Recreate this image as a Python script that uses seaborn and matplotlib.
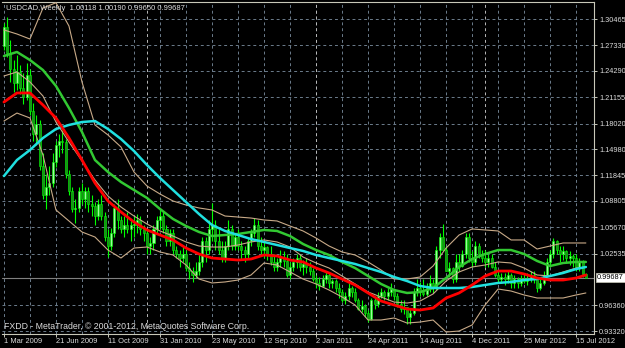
import matplotlib
matplotlib.use("Agg")
import matplotlib.pyplot as plt
import seaborn as sns
import pandas as pd

# ---------------- data ----------------
opens = [
1.2720, 1.2950, 1.2640, 1.2450, 1.2280, 1.2420, 1.2230, 1.2120, 1.2380, 1.1950,
1.1680, 1.1800, 1.1300, 1.0950, 1.1050, 1.1100, 1.1350, 1.1550, 1.1600, 1.1580,
1.1200, 1.1000, 1.0780, 1.0800, 1.1000, 1.0900, 1.1000, 1.0850, 1.0820, 1.0700,
1.0850, 1.0700, 1.0450, 1.0350, 1.0500, 1.0800, 1.0650, 1.0550, 1.0600, 1.0550,
1.0600, 1.0600, 1.0650, 1.0550, 1.0500, 1.0350, 1.0380, 1.0550, 1.0650, 1.0700,
1.0550, 1.0400, 1.0500, 1.0300, 1.0250, 1.0200, 1.0250, 1.0080, 1.0050, 1.0000,
1.0050, 1.0150, 1.0400, 1.0300, 1.0550, 1.0600, 1.0400, 1.0300, 1.0200, 1.0350,
1.0550, 1.0350, 1.0450, 1.0350, 1.0300, 1.0250, 1.0400, 1.0500, 1.0600, 1.0350,
1.0300, 1.0330, 1.0250, 1.0150, 1.0100, 1.0150, 1.0200, 1.0170, 1.0000, 1.0100,
1.0150, 1.0200, 1.0100, 1.0130, 1.0100, 1.0050, 0.9950, 0.9900, 0.9870, 0.9950,
1.0000, 0.9900, 0.9930, 0.9850, 0.9800, 0.9700, 0.9750, 0.9850, 0.9800, 0.9700,
0.9600, 0.9630, 0.9550, 0.9480, 0.9700, 0.9650, 0.9750, 0.9800, 0.9750, 0.9800,
0.9830, 0.9750, 0.9650, 0.9600, 0.9620, 0.9500, 0.9550, 0.9800, 0.9850, 0.9800,
0.9770, 0.9850, 0.9900, 0.9850, 1.0300, 1.0450, 1.0300, 1.0050, 1.0080, 0.9950,
1.0150, 1.0110, 1.0250, 1.0450, 1.0200, 1.0150, 1.0350, 1.0250, 1.0200, 1.0150,
1.0200, 1.0100, 1.0000, 0.9950, 0.9980, 0.9950, 1.0000, 0.9900, 0.9950, 0.9900,
0.9950, 0.9930, 0.9950, 1.0000, 0.9950, 0.9850, 0.9900, 1.0000, 1.0150, 1.0250,
1.0400, 1.0300, 1.0250, 1.0280, 1.0200, 1.0230, 1.0200, 1.0100, 1.0150, 1.00118]

highs = [
1.3000, 1.3065, 1.2800, 1.2560, 1.2620, 1.2500, 1.2400, 1.2520, 1.2450, 1.2050,
1.1900, 1.1850, 1.1450, 1.1200, 1.1300, 1.1450, 1.1600, 1.1680, 1.1720, 1.1620,
1.1250, 1.1050, 1.0900, 1.1050, 1.1100, 1.1050, 1.1050, 1.0950, 1.0870, 1.0900,
1.0950, 1.0750, 1.0550, 1.0560, 1.0850, 1.0900, 1.0700, 1.0700, 1.0750, 1.0650,
1.0700, 1.0720, 1.0700, 1.0600, 1.0550, 1.0450, 1.0600, 1.0700, 1.0780, 1.0750,
1.0600, 1.0550, 1.0550, 1.0350, 1.0300, 1.0350, 1.0300, 1.0150, 1.0100, 1.0150,
1.0250, 1.0450, 1.0450, 1.0650, 1.0855, 1.0650, 1.0550, 1.0400, 1.0400, 1.0650,
1.0600, 1.0500, 1.0550, 1.0400, 1.0350, 1.0450, 1.0550, 1.0680, 1.0650, 1.0450,
1.0400, 1.0350, 1.0350, 1.0250, 1.0200, 1.0300, 1.0280, 1.0250, 1.0150, 1.0200,
1.0250, 1.0250, 1.0180, 1.0200, 1.0150, 1.0080, 1.0000, 0.9970, 1.0000, 1.0050,
1.0020, 0.9950, 0.9950, 0.9900, 0.9830, 0.9800, 0.9900, 0.9870, 0.9850, 0.9730,
0.9700, 0.9650, 0.9580, 0.9720, 0.9750, 0.9800, 0.9850, 0.9820, 0.9850, 0.9900,
0.9850, 0.9780, 0.9700, 0.9700, 0.9620, 0.9600, 0.9850, 0.9950, 0.9920, 0.9950,
0.9900, 1.0000, 0.9950, 1.0350, 1.0500, 1.0605, 1.0350, 1.0150, 1.0100, 1.0250,
1.0250, 1.0300, 1.0500, 1.0500, 1.0280, 1.0400, 1.0380, 1.0300, 1.0300, 1.0250,
1.0250, 1.0150, 1.0050, 1.0020, 1.0020, 1.0050, 1.0020, 1.0000, 0.9980, 1.0000,
1.0020, 1.0020, 1.0050, 1.0050, 0.9980, 0.9950, 1.0050, 1.0200, 1.0300, 1.0440,
1.0420, 1.0350, 1.0350, 1.0300, 1.0280, 1.0250, 1.0250, 1.0200, 1.0180, 1.00190]

lows = [
1.2680, 1.2600, 1.2300, 1.2180, 1.2200, 1.2150, 1.2040, 1.2080, 1.1900, 1.1600,
1.1550, 1.1250, 1.0900, 1.0780, 1.0950, 1.1050, 1.1280, 1.1400, 1.1450, 1.1150,
1.0950, 1.0750, 1.0620, 1.0750, 1.0850, 1.0800, 1.0750, 1.0700, 1.0600, 1.0650,
1.0650, 1.0400, 1.0210, 1.0300, 1.0450, 1.0550, 1.0500, 1.0450, 1.0500, 1.0400,
1.0450, 1.0500, 1.0480, 1.0400, 1.0250, 1.0250, 1.0300, 1.0500, 1.0550, 1.0500,
1.0350, 1.0350, 1.0250, 1.0200, 1.0100, 1.0150, 1.0050, 0.9950, 0.9920, 0.9960,
1.0000, 1.0100, 1.0150, 1.0250, 1.0400, 1.0300, 1.0250, 1.0150, 1.0150, 1.0300,
1.0300, 1.0300, 1.0300, 1.0180, 1.0150, 1.0200, 1.0350, 1.0450, 1.0300, 1.0250,
1.0200, 1.0180, 1.0120, 1.0050, 1.0050, 1.0100, 1.0100, 0.9980, 0.9950, 1.0050,
1.0080, 1.0050, 1.0000, 1.0020, 1.0000, 0.9930, 0.9850, 0.9820, 0.9860, 0.9900,
0.9850, 0.9850, 0.9800, 0.9720, 0.9680, 0.9650, 0.9700, 0.9740, 0.9680, 0.9580,
0.9560, 0.9500, 0.9440, 0.9460, 0.9600, 0.9620, 0.9720, 0.9700, 0.9700, 0.9750,
0.9700, 0.9620, 0.9560, 0.9540, 0.9420, 0.9420, 0.9520, 0.9750, 0.9750, 0.9750,
0.9750, 0.9800, 0.9780, 0.9820, 1.0200, 1.0280, 1.0050, 0.9980, 0.9900, 0.9920,
1.0050, 1.0100, 1.0200, 1.0150, 1.0100, 1.0120, 1.0200, 1.0150, 1.0100, 1.0100,
1.0080, 0.9980, 0.9920, 0.9900, 0.9880, 0.9900, 0.9850, 0.9850, 0.9850, 0.9870,
0.9900, 0.9880, 0.9920, 0.9900, 0.9800, 0.9820, 0.9880, 0.9980, 1.0100, 1.0200,
1.0250, 1.0150, 1.0180, 1.0150, 1.0120, 1.0100, 1.0050, 1.0050, 0.9980, 0.99650]

closes = [
1.2950, 1.2640, 1.2450, 1.2280, 1.2420, 1.2230, 1.2120, 1.2380, 1.1950, 1.1680,
1.1800, 1.1300, 1.0950, 1.1050, 1.1100, 1.1350, 1.1550, 1.1600, 1.1580, 1.1200,
1.1000, 1.0780, 1.0800, 1.1000, 1.0900, 1.1000, 1.0850, 1.0820, 1.0700, 1.0850,
1.0700, 1.0450, 1.0350, 1.0500, 1.0800, 1.0650, 1.0550, 1.0600, 1.0550, 1.0600,
1.0600, 1.0650, 1.0550, 1.0500, 1.0350, 1.0380, 1.0550, 1.0650, 1.0700, 1.0550,
1.0400, 1.0500, 1.0300, 1.0250, 1.0200, 1.0250, 1.0080, 1.0050, 1.0000, 1.0050,
1.0150, 1.0400, 1.0300, 1.0550, 1.0600, 1.0400, 1.0300, 1.0200, 1.0350, 1.0550,
1.0350, 1.0450, 1.0350, 1.0300, 1.0250, 1.0400, 1.0500, 1.0600, 1.0350, 1.0300,
1.0330, 1.0250, 1.0150, 1.0100, 1.0150, 1.0200, 1.0170, 1.0000, 1.0100, 1.0150,
1.0200, 1.0100, 1.0130, 1.0100, 1.0050, 0.9950, 0.9900, 0.9870, 0.9950, 1.0000,
0.9900, 0.9930, 0.9850, 0.9800, 0.9700, 0.9750, 0.9850, 0.9800, 0.9700, 0.9600,
0.9630, 0.9550, 0.9480, 0.9700, 0.9650, 0.9750, 0.9800, 0.9750, 0.9800, 0.9830,
0.9750, 0.9650, 0.9600, 0.9620, 0.9500, 0.9550, 0.9800, 0.9850, 0.9800, 0.9770,
0.9850, 0.9900, 0.9850, 1.0300, 1.0450, 1.0300, 1.0050, 1.0080, 0.9950, 1.0150,
1.0110, 1.0250, 1.0450, 1.0200, 1.0150, 1.0350, 1.0250, 1.0200, 1.0150, 1.0200,
1.0100, 1.0000, 0.9950, 0.9980, 0.9950, 1.0000, 0.9900, 0.9950, 0.9900, 0.9950,
0.9930, 0.9950, 1.0000, 0.9950, 0.9850, 0.9900, 1.0000, 1.0150, 1.0250, 1.0400,
1.0300, 1.0250, 1.0280, 1.0200, 1.0230, 1.0200, 1.0100, 1.0150, 1.0012, 0.99687]

# indicator lines, read every 4 weeks
line_bars = [0, 4, 8, 12, 16, 20, 24, 28, 32, 36, 40, 44, 48, 52, 56, 60, 64, 68, 72, 76,
             80, 84, 88, 92, 96, 100, 104, 108, 112, 116, 120, 124, 128, 132, 136, 140,
             144, 148, 152, 156, 160, 164, 168, 172, 176, 179]
ma_cyan = [1.1177, 1.1368, 1.1487, 1.1630, 1.1737, 1.1785, 1.1820, 1.1832, 1.1737, 1.1618,
           1.1475, 1.1308, 1.1154, 1.1011, 1.0868, 1.0725, 1.0594, 1.0523, 1.0475, 1.0427,
           1.0392, 1.0356, 1.0320, 1.0285, 1.0237, 1.0201, 1.0166, 1.0130, 1.0082, 1.0035,
           0.9975, 0.9927, 0.9868, 0.9844, 0.9844, 0.9844, 0.9856, 0.9880, 0.9904, 0.9916,
           0.9939, 0.9951, 0.9987, 1.0023, 1.0070, 1.0094]
ma_red = [1.2058, 1.2166, 1.2166, 1.2023, 1.1868, 1.1630, 1.1368, 1.1094, 1.0880, 1.0749,
          1.0630, 1.0535, 1.0475, 1.0416, 1.0320, 1.0249, 1.0201, 1.0189, 1.0177, 1.0189,
          1.0237, 1.0225, 1.0177, 1.0154, 1.0082, 1.0023, 0.9951, 0.9880, 0.9785, 0.9689,
          0.9642, 0.9594, 0.9582, 0.9606, 0.9725, 0.9785, 0.9880, 0.9987, 1.0046, 1.0046,
          1.0011, 0.9963, 0.9939, 0.9939, 0.9963, 0.9999]
ma_green = [1.2606, 1.2654, 1.2558, 1.2439, 1.2249, 1.1987, 1.1701, 1.1368, 1.1225, 1.1106,
            1.1011, 1.0916, 1.0785, 1.0666, 1.0582, 1.0511, 1.0463, 1.0475, 1.0487, 1.0511,
            1.0535, 1.0523, 1.0463, 1.0368, 1.0296, 1.0237, 1.0154, 1.0082, 0.9987, 0.9892,
            0.9820, 0.9785, 0.9796, 0.9844, 0.9963, 1.0094, 1.0189, 1.0249, 1.0296, 1.0296,
            1.0249, 1.0166, 1.0106, 1.0142, 1.0154, 1.0154]
bb_upper = [1.2916, 1.2868, 1.2808, 1.3177, 1.3240, 1.2963, 1.2297, 1.1785, 1.1666, 1.1523,
            1.1225, 1.1058, 1.0963, 1.0880, 1.0832, 1.0797, 1.0773, 1.0701, 1.0689, 1.0677,
            1.0654, 1.0642, 1.0582, 1.0523, 1.0439, 1.0344, 1.0273, 1.0237, 1.0154, 1.0058,
            0.9951, 0.9951, 0.9975, 1.0106, 1.0320, 1.0475, 1.0547, 1.0535, 1.0523, 1.0416,
            1.0416, 1.0308, 1.0344, 1.0380, 1.0380, 1.0380]
bb_middle = [1.2368, 1.2416, 1.2297, 1.2130, 1.1820, 1.1582, 1.1356, 1.1130, 1.0939, 1.0808,
             1.0701, 1.0606, 1.0523, 1.0463, 1.0392, 1.0344, 1.0332, 1.0332, 1.0356, 1.0392,
             1.0416, 1.0392, 1.0332, 1.0213, 1.0142, 1.0082, 0.9987, 0.9892, 0.9796, 0.9737,
             0.9677, 0.9665, 0.9689, 0.9773, 0.9927, 1.0035, 1.0094, 1.0118, 1.0154, 1.0142,
             1.0082, 0.9999, 0.9987, 1.0035, 1.0082, 1.0094]
bb_lower = [1.1832, 1.1927, 1.1868, 1.1427, 1.0773, 1.0642, 1.0511, 1.0451, 1.0296, 1.0201,
            1.0320, 1.0332, 1.0273, 1.0237, 1.0118, 0.9951, 0.9904, 0.9916, 0.9939, 0.9999,
            1.0142, 1.0118, 1.0035, 0.9951, 0.9892, 0.9820, 0.9737, 0.9642, 0.9463, 0.9463,
            0.9487, 0.9427, 0.9439, 0.9463, 0.9320, 0.9332, 0.9404, 0.9642, 0.9832, 0.9808,
            0.9761, 0.9725, 0.9725, 0.9725, 0.9761, 0.9785]

date_ticks = [0, 16, 32, 48, 64, 80, 96, 112, 128, 144, 160, 176]
date_labels = ["1 Mar 2009", "21 Jun 2009", "11 Oct 2009", "31 Jan 2010", "23 May 2010",
               "12 Sep 2010", "2 Jan 2011", "24 Apr 2011", "14 Aug 2011", "4 Dec 2011",
               "25 Mar 2012", "15 Jul 2012"]
price_ticks = [1.30465, 1.27330, 1.24290, 1.21155, 1.18020, 1.14980, 1.11845,
               1.08805, 1.05670, 1.02535, 0.96360, 0.93320]
price_labels = ["1.30465", "1.27330", "1.24290", "1.21155", "1.18020", "1.14980", "1.11845",
                "1.08805", "1.05670", "1.02535", "0.96360", "0.93320"]
year_separators = [44, 96, 148]
last_price = 0.99687
header = "USDCAD,Weekly  1.00118 1.00190 0.99650 0.99687"
footer = "FXDD - MetaTrader, \u00a9 2001-2012, MetaQuotes Software Corp."

# ---------------- style ----------------
sns.set_theme(style="dark")
plt.rcParams["font.family"] = ["Liberation Sans", "DejaVu Sans"]
FG = "#DCDCDC"
GRID = "#6C7C8C"
AXC = "#C8C8B8"

W, H = 625, 348
fig = plt.figure(figsize=(W / 100, H / 100), dpi=100, facecolor="black")
ax_left, ax_right, ax_top, ax_bot = 2, 594, 2, 333.5
ax = fig.add_axes([ax_left / W, 1 - ax_bot / H, (ax_right - ax_left) / W, (ax_bot - ax_top) / H])
ax.set_facecolor("black")

ax.set_xlim(-0.6, 181.5)
ax.set_ylim(0.93024, 1.32489)

# grid
for b in range(0, 182, 8):
    ax.axvline(b, color=GRID, lw=0.7, ls=(0, (3, 3)), zorder=1)
for p in price_ticks:
    ax.axhline(p, color=GRID, lw=0.7, ls=(0, (3, 3)), zorder=1)
for b in year_separators:
    ax.axvline(b, color="#B8B8B8", lw=0.7, ls=(0, (3, 3)), zorder=1)

# bid line
ax.axhline(last_price, color="#808080", lw=0.8, zorder=2)

# candles
df = pd.DataFrame({"bar": range(len(closes)), "open": opens, "high": highs,
                   "low": lows, "close": closes})
ax.vlines(df["bar"], df["low"], df["high"], color="#00FF00", lw=0.8, zorder=3)
bull = df["close"] >= df["open"]
bottoms = df[["open", "close"]].min(axis=1)
heights = (df["close"] - df["open"]).abs().clip(lower=0.0006)
ax.bar(df["bar"][bull], heights[bull], bottom=bottoms[bull], width=0.62,
       color="#9CFF9C", edgecolor="#00FF00", lw=0.4, zorder=4)
ax.bar(df["bar"][~bull], heights[~bull], bottom=bottoms[~bull], width=0.62,
       color="#1E8C1E", edgecolor="#00FF00", lw=0.4, zorder=4)

# indicators
lines = pd.DataFrame({"bar": line_bars, "cyan": ma_cyan, "red": ma_red, "green": ma_green,
                      "up": bb_upper, "mid": bb_middle, "lo": bb_lower})
TAN = "#C8AA88"
for col in ["up", "mid", "lo"]:
    sns.lineplot(data=lines, x="bar", y=col, ax=ax, color=TAN, lw=0.8, zorder=5,
                 estimator=None, sort=False)
sns.lineplot(data=lines, x="bar", y="green", ax=ax, color="#32C832", lw=1.8, zorder=6,
             estimator=None, sort=False)
sns.lineplot(data=lines, x="bar", y="cyan", ax=ax, color="#20E0E0", lw=1.8, zorder=6,
             estimator=None, sort=False)
sns.lineplot(data=lines, x="bar", y="red", ax=ax, color="#FF0000", lw=2.0, zorder=7,
             estimator=None, sort=False)

# axes
ax.set_xlabel("")
ax.set_ylabel("")
ax.spines["left"].set_visible(False)
for s in ["top", "bottom", "right"]:
    ax.spines[s].set_visible(True)
    ax.spines[s].set_color(AXC)
    ax.spines[s].set_linewidth(0.8)

ax.set_yticks(price_ticks)
ax.set_yticklabels(price_labels)
ax.tick_params(axis="y", left=False, right=True, labelleft=False, labelright=True,
               length=2.5, width=0.7, color=AXC, labelcolor=FG, labelsize=5.3, pad=1.2)
ax.set_xticks(date_ticks)
ax.set_xticklabels(date_labels, ha="left")
ax.tick_params(axis="x", bottom=True, length=2.5, width=0.7, color=AXC,
               labelcolor=FG, labelsize=5.4, pad=0.8)
ax.grid(False)

# current price label
ax.annotate("0.99687", xy=(1.0, last_price), xycoords=("axes fraction", "data"),
            xytext=(2.2, 0), textcoords="offset points", ha="left", va="center",
            fontsize=5.3, color="black",
            bbox=dict(boxstyle="square,pad=0.15", fc="white", ec=AXC, lw=0.5),
            annotation_clip=False)

fig.text(6 / W, 1 - 8.5 / H, header, color=FG, fontsize=5.5, ha="left", va="center")
fig.text(4 / W, 1 - 326.5 / H, footer, color=FG, fontsize=6.3, ha="left", va="center")

fig.savefig("out.png", dpi=100, facecolor="black")
